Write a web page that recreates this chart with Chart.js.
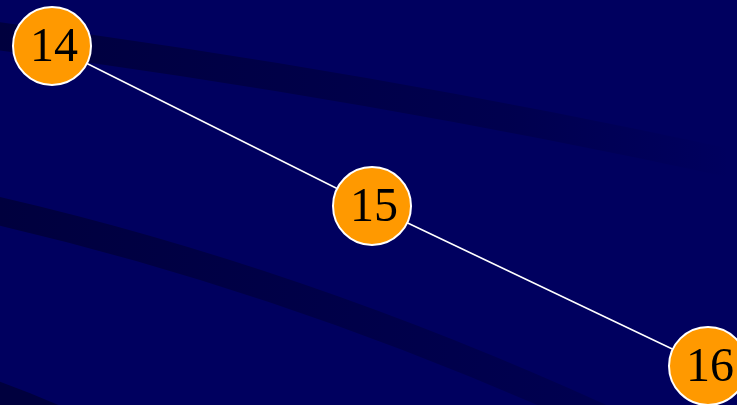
<!DOCTYPE html>
<html>
<head>
<meta charset="utf-8">
<title>14 - 15 - 16</title>
<script src="https://cdn.jsdelivr.net/npm/chart.js@4.4.0/dist/chart.umd.min.js"></script>
<style>
  html, body { margin: 0; padding: 0; background: #00005f; overflow: hidden; }
  #wrap { width: 737px; height: 405px; position: relative; }
</style>
</head>
<body>
<div id="wrap"><canvas id="grafico"></canvas></div>
<script>
// dados do gráfico
var rotulos = ["14", "15", "16"];
var posX = [0, 1, 2.05];
var posY = [2, 1, 0];

// limites dos eixos (escondidos)
var eixoX = { min: -0.1625, max: 2.1406 };
var eixoY = { min: -0.2438, max: 2.2875 };

var pontos = posX.map(function (x, i) {
  return { x: x, y: posY[i] };
});

// fundo azul com as faixas escuras curvas
const fundo = {
  id: "fundo",
  beforeDraw(chart) {
    const c = chart.ctx;
    const w = chart.width, h = chart.height;
    c.save();
    c.fillStyle = "#00005f";
    c.fillRect(0, 0, w, h);
    c.lineCap = "butt";
    c.lineWidth = 28;

    let g = c.createLinearGradient(0, 0, 730, 0);
    g.addColorStop(0, "rgba(0,0,40,0.6)");
    g.addColorStop(0.7, "rgba(0,0,40,0.3)");
    g.addColorStop(1, "rgba(0,0,40,0)");
    c.strokeStyle = g;
    c.beginPath();
    c.moveTo(-10, 35);
    c.quadraticCurveTo(360, 83, 730, 163);
    c.stroke();

    g = c.createLinearGradient(0, 0, 620, 0);
    g.addColorStop(0, "rgba(0,0,40,0.6)");
    g.addColorStop(1, "rgba(0,0,40,0.25)");
    c.strokeStyle = g;
    c.beginPath();
    c.moveTo(-10, 209);
    c.quadraticCurveTo(300, 280, 610, 422);
    c.stroke();

    c.strokeStyle = "rgba(0,0,40,0.6)";
    c.beginPath();
    c.moveTo(-10, 393);
    c.quadraticCurveTo(60, 418, 130, 455);
    c.stroke();
    c.restore();
  }
};

// números dentro dos círculos
const numeros = {
  id: "numeros",
  afterDatasetsDraw(chart) {
    const c = chart.ctx;
    const meta = chart.getDatasetMeta(0);
    c.save();
    c.fillStyle = "#000000";
    c.font = '48px "Liberation Serif", "Times New Roman", serif';
    c.textAlign = "center";
    c.textBaseline = "middle";
    meta.data.forEach(function (p, i) {
      c.fillText(rotulos[i], p.x + 2, p.y + 2);
    });
    c.restore();
  }
};

var ctx = document.getElementById("grafico").getContext("2d");

var grafico = new Chart(ctx, {
  type: "line",
  data: {
    datasets: [
      {
        label: "sequência",
        data: pontos,
        borderColor: "#ffffff",
        borderWidth: 1.5,
        pointRadius: 39,
        pointHoverRadius: 39,
        pointBackgroundColor: "#ff9900",
        pointBorderColor: "#ffffff",
        pointBorderWidth: 2,
        fill: false,
        tension: 0,
        clip: false,
      },
    ],
  },
  options: {
    responsive: true,
    maintainAspectRatio: false,
    animation: false,
    layout: { padding: 0, autoPadding: false },
    plugins: {
      legend: { display: false },
      tooltip: { enabled: false },
    },
    scales: {
      x: { type: "linear", display: false, min: eixoX.min, max: eixoX.max },
      y: { type: "linear", display: false, min: eixoY.min, max: eixoY.max },
    },
  },
  plugins: [fundo, numeros],
});
</script>
</body>
</html>
